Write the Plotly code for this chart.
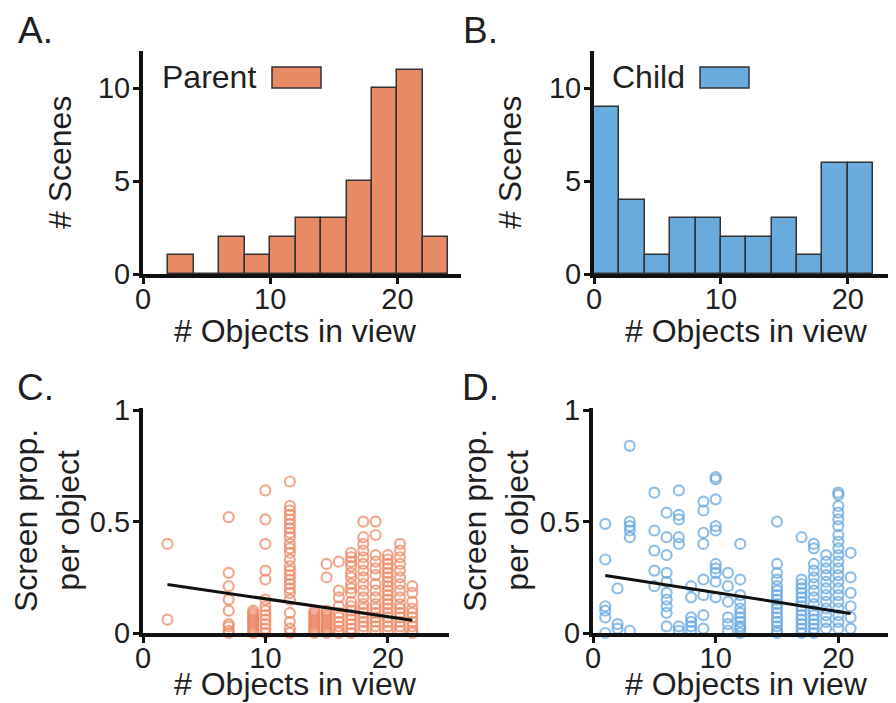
import plotly.graph_objects as go

# ---------------- data ----------------
bin_width = 2
parent_bin_left = [2, 4, 6, 8, 10, 12, 14, 16, 18, 20, 22]
parent_counts = [1, 0, 2, 1, 2, 3, 3, 5, 10, 11, 2]
child_bin_left = [0, 2, 4, 6, 8, 10, 12, 14, 16, 18, 20]
child_counts = [9, 4, 1, 3, 3, 2, 2, 3, 1, 6, 6]

parent_cols_x = [2, 7, 9, 10, 12, 14, 15, 16, 17, 18, 19, 20, 21, 22]
parent_cols_y = [
    [0.40, 0.06],
    [0.52, 0.27, 0.21, 0.15, 0.10, 0.04, 0.03, 0.01, 0.0],
    [0.10, 0.09, 0.08, 0.07, 0.06, 0.05, 0.04, 0.03, 0.02, 0.01, 0.0],
    [0.64, 0.51, 0.40, 0.28, 0.24, 0.15, 0.12, 0.10, 0.08, 0.06, 0.04, 0.02, 0.0],
    [0.68, 0.57, 0.55, 0.53, 0.51, 0.49, 0.47, 0.45, 0.43, 0.40, 0.38, 0.36, 0.33,
     0.30, 0.28, 0.26, 0.24, 0.22, 0.20, 0.18, 0.15, 0.09, 0.05, 0.02, 0.0],
    [0.10, 0.09, 0.08, 0.07, 0.06, 0.05, 0.04, 0.03, 0.02, 0.01, 0.0],
    [0.31, 0.25, 0.10, 0.09, 0.08, 0.07, 0.06, 0.05, 0.04, 0.03, 0.02, 0.01, 0.0],
    [0.32, 0.19, 0.16, 0.12, 0.09, 0.07, 0.05, 0.03, 0.01, 0.0],
    [0.36, 0.34, 0.32, 0.30, 0.27, 0.25, 0.22, 0.20, 0.18, 0.14, 0.12, 0.10, 0.08,
     0.06, 0.04, 0.02, 0.0],
    [0.50, 0.43, 0.40, 0.37, 0.34, 0.31, 0.28, 0.25, 0.22, 0.19, 0.16, 0.13, 0.11,
     0.09, 0.07, 0.05, 0.03, 0.01],
    [0.50, 0.44, 0.35, 0.32, 0.29, 0.26, 0.22, 0.19, 0.16, 0.13, 0.11, 0.09, 0.07,
     0.05, 0.03, 0.01],
    [0.35, 0.33, 0.31, 0.29, 0.27, 0.25, 0.23, 0.21, 0.19, 0.17, 0.15, 0.13, 0.11,
     0.09, 0.07, 0.05, 0.03, 0.01],
    [0.40, 0.37, 0.34, 0.31, 0.28, 0.25, 0.22, 0.19, 0.16, 0.13, 0.11, 0.09, 0.07,
     0.05, 0.03, 0.01],
    [0.21, 0.18, 0.14, 0.11, 0.09, 0.07, 0.05, 0.03, 0.01, 0.0],
]

child_cols_x = [1, 2, 3, 5, 6, 7, 8, 9, 10, 11, 12, 15, 17, 18, 19, 20, 21]
child_cols_y = [
    [0.49, 0.33, 0.12, 0.10, 0.07, 0.0],
    [0.20, 0.04, 0.02],
    [0.84, 0.50, 0.48, 0.46, 0.43, 0.01],
    [0.63, 0.46, 0.37, 0.28, 0.21],
    [0.54, 0.43, 0.35, 0.27, 0.23, 0.18, 0.15, 0.12, 0.09, 0.03],
    [0.64, 0.53, 0.51, 0.43, 0.40, 0.03, 0.01],
    [0.21, 0.16, 0.07, 0.05, 0.03, 0.01],
    [0.59, 0.55, 0.45, 0.40, 0.24, 0.17, 0.08, 0.02],
    [0.70, 0.69, 0.60, 0.48, 0.46, 0.31, 0.29, 0.27, 0.23, 0.16],
    [0.27, 0.21, 0.14, 0.07, 0.04, 0.01],
    [0.40, 0.24, 0.17, 0.14, 0.11, 0.09, 0.07, 0.05, 0.03, 0.02, 0.0],
    [0.50, 0.31, 0.27, 0.24, 0.21, 0.19, 0.17, 0.15, 0.13, 0.11, 0.09, 0.07, 0.05,
     0.03, 0.01, 0.0],
    [0.43, 0.24, 0.22, 0.20, 0.18, 0.16, 0.14, 0.12, 0.10, 0.08, 0.06, 0.04, 0.02, 0.0],
    [0.40, 0.38, 0.31, 0.28, 0.25, 0.22, 0.19, 0.16, 0.13, 0.10, 0.08, 0.06, 0.04,
     0.02, 0.0],
    [0.35, 0.32, 0.29, 0.26, 0.23, 0.20, 0.17, 0.14, 0.11, 0.08, 0.05, 0.02],
    [0.63, 0.62, 0.57, 0.54, 0.51, 0.48, 0.44, 0.41, 0.38, 0.35, 0.32, 0.29, 0.26,
     0.23, 0.20, 0.17, 0.14, 0.11, 0.08, 0.05, 0.02],
    [0.36, 0.25, 0.18, 0.12, 0.07, 0.02],
]

parent_fit_x = [2, 22]
parent_fit_y = [0.218, 0.057]
child_fit_x = [1, 21]
child_fit_y = [0.258, 0.088]

hist_ticks = [0, 10, 20]
hist_yticks = [0, 5, 10]
scat_yticks = [0, 0.5, 1]
scat_yticklabels = ["0", "0.5", "1"]

# ---------------- styles ----------------
OFF = 8                      # page body margin in the browser
FW, FH = 896 - OFF, 703 - OFF
FONT = "Liberation Sans, Arial, sans-serif"
TXT = "#1f1f1f"
ORANGE = "#E98A67"
BLUE = "#6AABDD"
ORANGE_PT = "rgba(236,135,100,0.72)"
BLUE_PT = "rgba(100,165,222,0.72)"


def flatten(xs, ys):
    fx, fy = [], []
    for x, col in zip(xs, ys):
        for v in col:
            fx.append(x)
            fy.append(v)
    return fx, fy


fig = go.Figure()

# histograms
fig.add_trace(go.Bar(
    x=[b + bin_width / 2 for b in parent_bin_left], y=parent_counts, width=bin_width,
    marker=dict(color=ORANGE, line=dict(color="#333333", width=1.5)),
    xaxis="x", yaxis="y", showlegend=False))
fig.add_trace(go.Bar(
    x=[b + bin_width / 2 for b in child_bin_left], y=child_counts, width=bin_width,
    marker=dict(color=BLUE, line=dict(color="#333333", width=1.5)),
    xaxis="x2", yaxis="y2", showlegend=False))

# scatters
px, py = flatten(parent_cols_x, parent_cols_y)
cx, cy = flatten(child_cols_x, child_cols_y)
fig.add_trace(go.Scatter(
    x=px, y=py, mode="markers", cliponaxis=False,
    marker=dict(symbol="circle-open", size=10, color=ORANGE_PT, line=dict(width=2.2)),
    xaxis="x3", yaxis="y3", showlegend=False))
fig.add_trace(go.Scatter(
    x=parent_fit_x, y=parent_fit_y, mode="lines", line=dict(color="#111111", width=3),
    xaxis="x3", yaxis="y3", showlegend=False))
fig.add_trace(go.Scatter(
    x=cx, y=cy, mode="markers", cliponaxis=False,
    marker=dict(symbol="circle-open", size=10, color=BLUE_PT, line=dict(width=2.2)),
    xaxis="x4", yaxis="y4", showlegend=False))
fig.add_trace(go.Scatter(
    x=child_fit_x, y=child_fit_y, mode="lines", line=dict(color="#111111", width=3),
    xaxis="x4", yaxis="y4", showlegend=False))


def px2x(p):
    return min(1.0, (p - OFF) / FW)


def px2y(p):
    return 1 - (p - OFF) / FH


ax_common = dict(showgrid=False, zeroline=False, showline=True, linecolor="#111111",
                 linewidth=4, ticks="outside", ticklen=6, tickwidth=3, tickcolor="#111111",
                 automargin=False,
                 tickfont=dict(family=FONT, size=29, color=TXT), fixedrange=True)
xax = dict(ax_common, ticklabelstandoff=-10)
yax = dict(ax_common, ticklabelstandoff=-3)

hist_y_dom = [px2y(274), px2y(51)]
scat_y_dom = [px2y(633), px2y(408)]

fig.update_layout(
    width=FW, height=FH, margin=dict(l=0, r=0, t=0, b=0, autoexpand=False),
    paper_bgcolor="white", plot_bgcolor="white", bargap=0,
    xaxis=dict(domain=[px2x(143), px2x(461)], range=[0, 25], tickvals=hist_ticks,
               anchor="y", **xax),
    yaxis=dict(domain=hist_y_dom, range=[0, 12], tickvals=hist_yticks, anchor="x",
               **yax),
    xaxis2=dict(domain=[px2x(594), 1.0], range=[0, 23.8], tickvals=hist_ticks,
                anchor="y2", **xax),
    yaxis2=dict(domain=hist_y_dom, range=[0, 12], tickvals=hist_yticks, anchor="x2",
                **yax),
    xaxis3=dict(domain=[px2x(143), px2x(449)], range=[0, 25], tickvals=hist_ticks,
                anchor="y3", **xax),
    yaxis3=dict(domain=scat_y_dom, range=[0, 1.01], tickvals=scat_yticks,
                ticktext=scat_yticklabels, anchor="x3", **yax),
    xaxis4=dict(domain=[px2x(593), 1.0], range=[0, 24.7], tickvals=hist_ticks,
                anchor="y4", **xax),
    yaxis4=dict(domain=scat_y_dom, range=[0, 1.01], tickvals=scat_yticks,
                ticktext=scat_yticklabels, anchor="x4", **yax),
)

anns = []


def add_text(text, x, y, size, angle=0, xanchor="center", yanchor="middle"):
    anns.append(dict(text=text, x=px2x(x), y=px2y(y), xref="paper", yref="paper",
                     showarrow=False, textangle=angle, xanchor=xanchor, yanchor=yanchor,
                     font=dict(family=FONT, size=size, color=TXT)))


# panel letters
add_text("A.", 16, 31, 37, xanchor="left")
add_text("B.", 461, 31, 37, xanchor="left")
add_text("C.", 15, 387, 37, xanchor="left")
add_text("D.", 460, 387, 37, xanchor="left")

# axis titles
for cxp in (295, 746):
    add_text("# Objects in view", cxp, 331, 32)
    add_text("# Objects in view", cxp, 684, 32)
add_text("# Scenes", 60, 163, 32, angle=-90)
add_text("# Scenes", 510, 163, 32, angle=-90)
add_text("Screen prop.<br>per object", 47, 521, 32, angle=-90)
add_text("Screen prop.<br>per object", 496, 521, 32, angle=-90)

# legends
add_text("Parent", 160, 77, 32, xanchor="left")
add_text("Child", 610, 77, 32, xanchor="left")

fig.update_layout(annotations=anns)

fig.update_layout(shapes=[
    dict(type="rect", xref="paper", yref="paper", x0=px2x(272), x1=px2x(321),
         y0=px2y(88), y1=px2y(67), fillcolor=ORANGE, line=dict(color="#333333", width=1.5)),
    dict(type="rect", xref="paper", yref="paper", x0=px2x(700), x1=px2x(749),
         y0=px2y(88), y1=px2y(67), fillcolor=BLUE, line=dict(color="#333333", width=1.5)),
])

fig.write_html("out.html")
